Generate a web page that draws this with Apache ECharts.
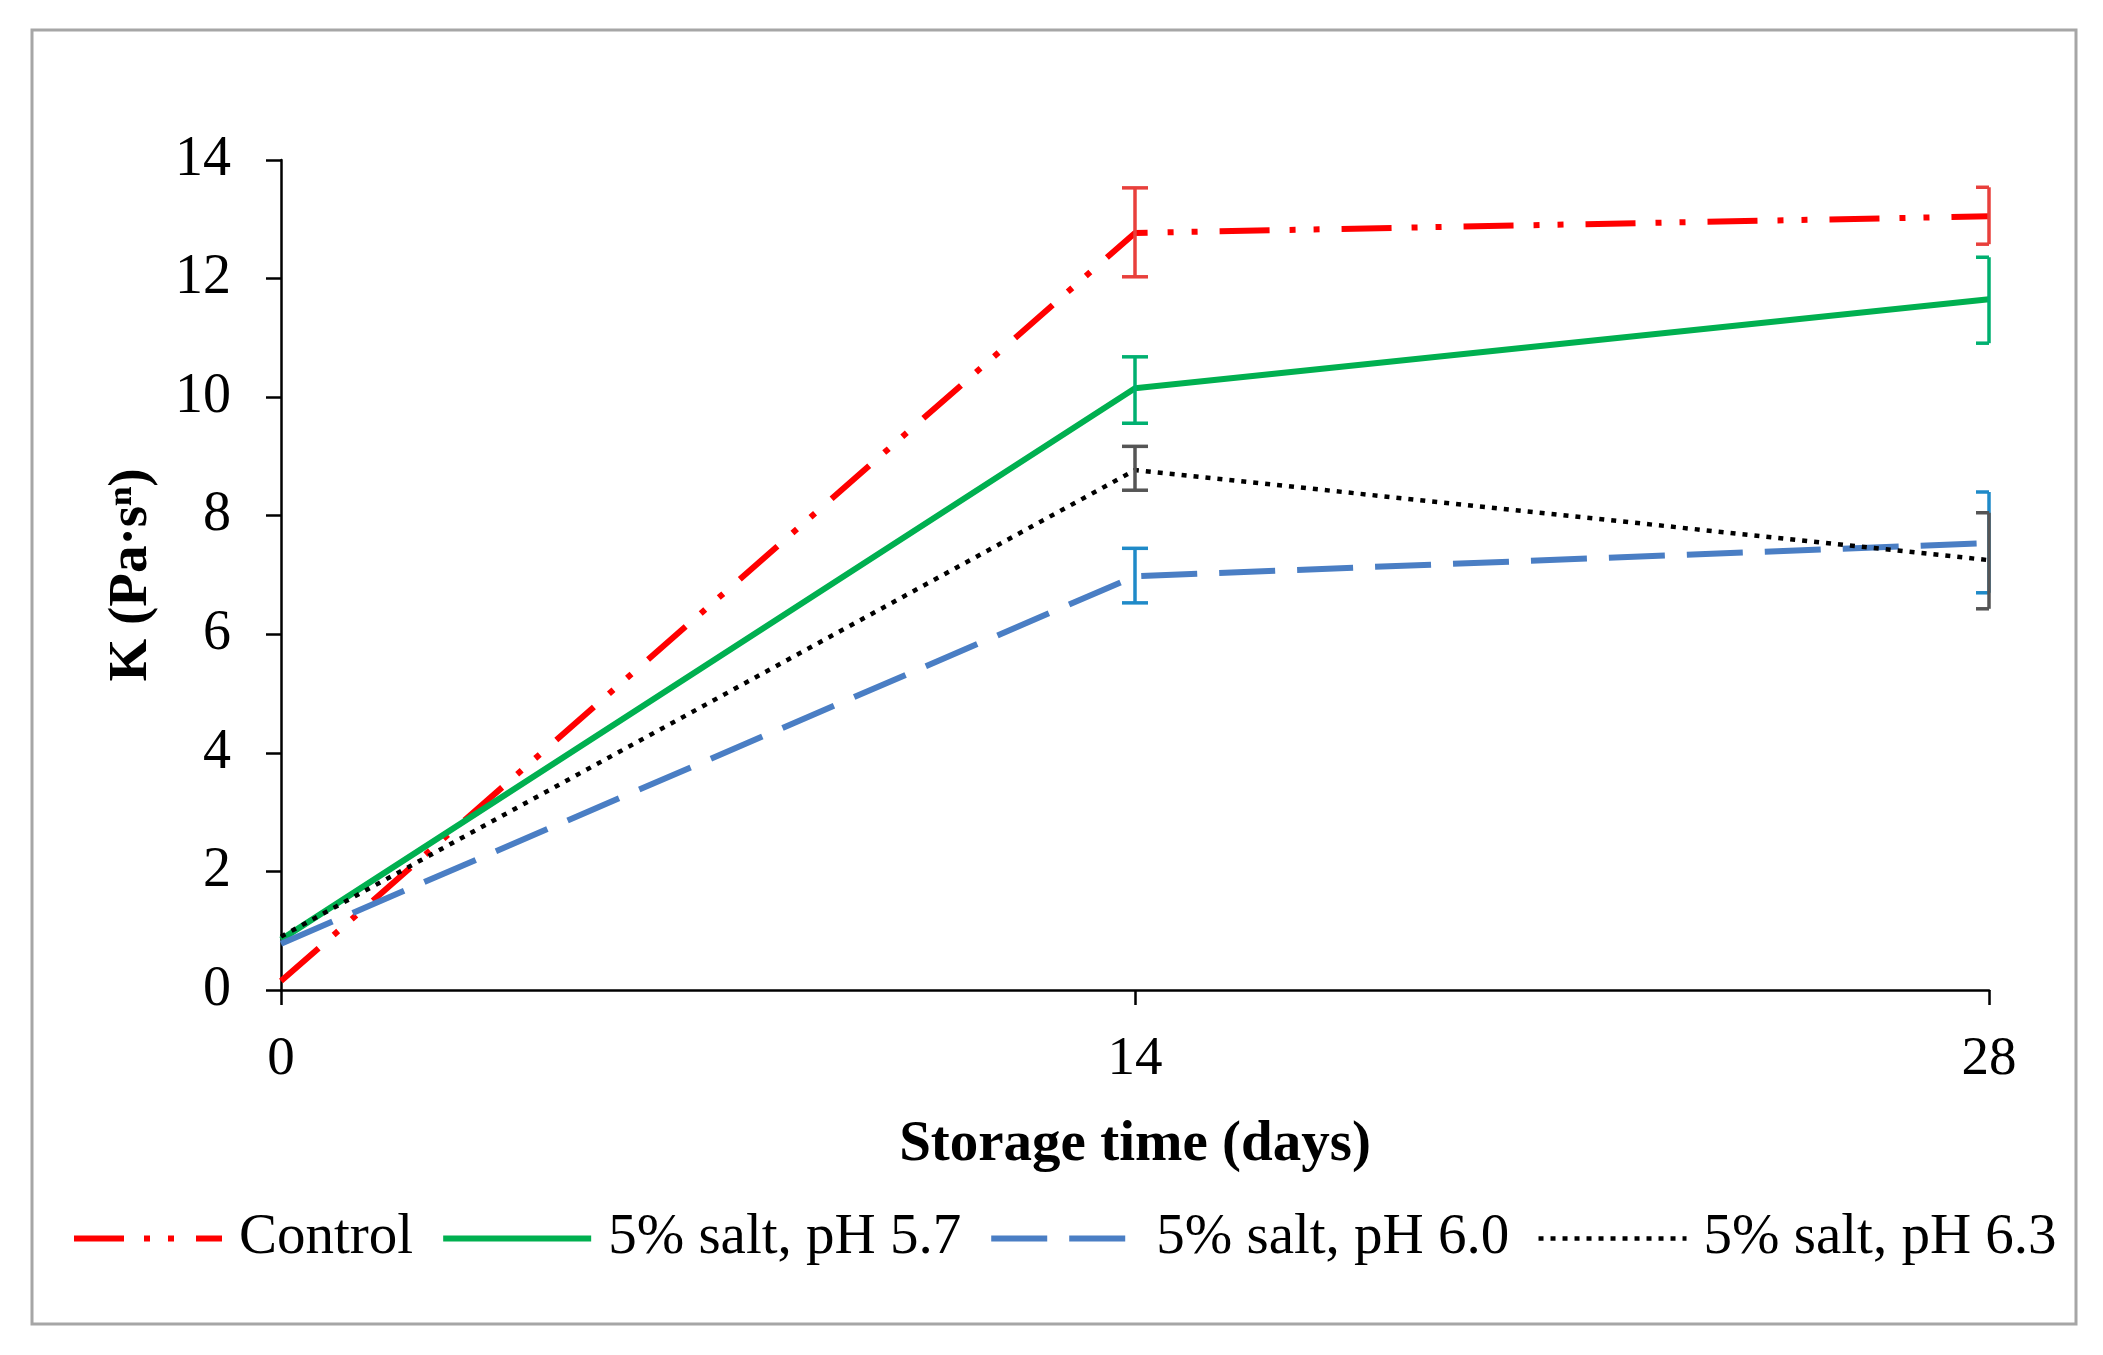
<!DOCTYPE html>
<html>
<head>
<meta charset="utf-8">
<script src="https://cdn.jsdelivr.net/npm/echarts@6/dist/echarts.min.js"></script>
<style>
html,body{margin:0;padding:0;background:#fff;}
#chart{width:2103px;height:1355px;}
</style>
</head>
<body>
<div id="chart"></div>
<script>
// ---- data ----
var days = [0, 14, 28];
var seriesNames = ['Control', '5% salt, pH 5.7', '5% salt, pH 6.0', '5% salt, pH 6.3'];
var control = [0.15, 12.77, 13.05];
var controlLow = [0.15, 12.03, 12.58];
var controlHigh = [0.15, 13.53, 13.54];
var ph57 = [0.85, 10.15, 11.65];
var ph57Low = [0.85, 9.56, 10.91];
var ph57High = [0.85, 10.68, 12.36];
var ph60 = [0.78, 6.98, 7.54];
var ph60Low = [0.78, 6.53, 6.70];
var ph60High = [0.78, 7.45, 8.40];
var ph63 = [0.90, 8.77, 7.25];
var ph63Low = [0.90, 8.43, 6.43];
var ph63High = [0.90, 9.17, 8.05];
var yTicks = [0, 2, 4, 6, 8, 10, 12, 14];
var xTicks = [0, 14, 28];

var FONT = 'Liberation Serif';
var chart = echarts.init(document.getElementById('chart'));

function pts(vals) { return days.map(function (d, i) { return [d, vals[i]]; }); }
function errPts(lo, hi) { return days.map(function (d, i) { return [d, lo[i], hi[i]]; }); }

function errSeries(lo, hi, color) {
  return {
    type: 'custom',
    silent: true,
    z: 5,
    data: errPts(lo, hi),
    encode: { x: 0, y: [1, 2] },
    renderItem: function (params, api) {
      var x = api.value(0);
      var p1 = api.coord([x, api.value(1)]);
      var p2 = api.coord([x, api.value(2)]);
      if (Math.abs(p1[1] - p2[1]) < 0.5) return null;
      var hw = 13;
      var right = (x === days[days.length - 1]) ? 0 : hw;
      var st = { stroke: color, lineWidth: 3.5 };
      return {
        type: 'group',
        children: [
          { type: 'line', shape: { x1: p1[0], y1: p1[1], x2: p2[0], y2: p2[1] }, style: st },
          { type: 'line', shape: { x1: p1[0] - hw, y1: p1[1], x2: p1[0] + right, y2: p1[1] }, style: st },
          { type: 'line', shape: { x1: p2[0] - hw, y1: p2[1], x2: p2[0] + right, y2: p2[1] }, style: st }
        ]
      };
    }
  };
}

var styles = [
  { color: '#ff0000', type: [50, 20, 6, 18, 6, 22], width: 6 },
  { color: '#00b050', type: 'solid', width: 6 },
  { color: '#4a7ec4', type: [56, 22], width: 6 },
  { color: '#000000', type: [5, 7], width: 4.5 }
];

function lineSeries(i, vals) {
  var s = styles[i];
  return {
    name: seriesNames[i],
    type: 'line',
    data: pts(vals),
    symbol: 'none',
    showSymbol: false,
    z: 3,
    lineStyle: { color: s.color, width: s.width, type: s.type, cap: 'butt' },
    itemStyle: { color: s.color }
  };
}

var option = {
  backgroundColor: '#ffffff',
  animation: false,
  graphic: [{
    type: 'rect',
    shape: { x: 32, y: 30, width: 2044, height: 1294 },
    style: { fill: 'none', stroke: '#a6a6a6', lineWidth: 3 },
    silent: true
  }],
  grid: { left: 281, right: 114, top: 160, bottom: 365, containLabel: false },
  legend: {
    data: seriesNames,
    left: 66,
    top: 1205,
    itemWidth: 148,
    itemHeight: 14,
    itemGap: 27,
    itemStyle: { opacity: 0 },
    lineStyle: { width: 'inherit', type: 'inherit', color: 'inherit' },
    textStyle: { fontFamily: FONT, fontSize: 57, color: '#000', padding: [0, 0, 0, 12] }
  },
  xAxis: {
    type: 'value',
    min: 0, max: 28, interval: 14,
    name: 'Storage time (days)',
    nameLocation: 'middle',
    nameGap: 127,
    nameTextStyle: { fontFamily: FONT, fontSize: 57, fontWeight: 'bold', color: '#000' },
    axisLine: { show: true, lineStyle: { color: '#000', width: 2.5 } },
    axisTick: { show: true, length: 15, lineStyle: { color: '#000', width: 2.5 } },
    axisLabel: {
      fontFamily: FONT, fontSize: 55, color: '#000', margin: 42,
      formatter: function (v) { return xTicks.indexOf(v) >= 0 ? String(v) : ''; }
    },
    splitLine: { show: false }
  },
  yAxis: {
    type: 'value',
    min: 0, max: 14, interval: 2,
    name: 'K (Pa·sⁿ)',
    nameLocation: 'middle',
    nameGap: 122,
    nameTextStyle: { fontFamily: FONT, fontSize: 55, fontWeight: 'bold', color: '#000' },
    axisLine: { show: true, lineStyle: { color: '#000', width: 2.5 } },
    axisTick: { show: true, length: 15, lineStyle: { color: '#000', width: 2.5 } },
    axisLabel: {
      fontFamily: FONT, fontSize: 56, color: '#000', margin: 50,
      formatter: function (v) { return yTicks.indexOf(v) >= 0 ? String(v) : ''; }
    },
    splitLine: { show: false }
  },
  series: [
    lineSeries(0, control),
    lineSeries(1, ph57),
    lineSeries(2, ph60),
    lineSeries(3, ph63),
    errSeries(controlLow, controlHigh, '#e8403c'),
    errSeries(ph57Low, ph57High, '#00b070'),
    errSeries(ph60Low, ph60High, '#1f8ac8'),
    errSeries(ph63Low, ph63High, '#555555')
  ]
};
chart.setOption(option);
</script>
</body>
</html>
